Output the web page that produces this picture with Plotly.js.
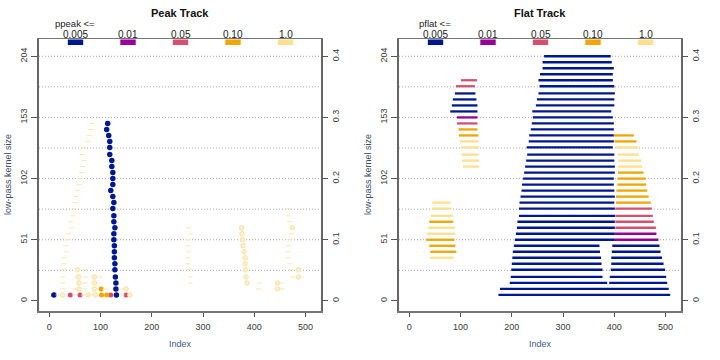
<!DOCTYPE html>
<html><head><meta charset="utf-8">
<script src="https://cdn.plot.ly/plotly-3.0.1.min.js"></script>
<style>html,body{margin:0;padding:0;background:#fff}#chart{width:720px;height:360px}</style>
</head><body><div id="chart"></div>
<script>
// ---------- data ----------
const kernelSizes = [5,10,15,20,26,31,36,41,46,51,56,61,66,71,77,82,87,92,97,102,107,112,117,122,128,133,138,143,148,153,158,163,168,173,179,184,189,194,199,204];
const pLevels = [0.005, 0.01, 0.05, 0.10, 1.0];
const pLabels = ['0.005','0.01','0.05','0.10','1.0'];
const xTicks = [0,100,200,300,400,500];
const yTicks = [0,51,102,153,204];
const rightTicks = [0,0.1,0.2,0.3,0.4];
const rightTickText = ['0','0.1','0.2','0.3','0.4'];
const gridVals = [25.5,51,76.5,102,127.5,153,178.5,204];
const signalLength = 510;

// Peak track: detected peaks (row = kernel size index, 1-based)
const peakRow = [29,28,27,26,25,24,23,22,21,20,19,18,17,16,15,14,13,12,11,10,9,8,7,6,5,4,3,2,1,1,
  1,1,1,1, 1,1,2,
  1,1,1,1,2,2,2,3,3,4,4,5,
  12,11,10,9,8,7,6,5,4,3, 3,2, 12,5,4];
const peakIndex = [114,112,116,118,118,118,122,122,124,124,124,120,124,126,124,126,126,128,126,126,127,127,127,128,128,129,130,130,131,9,
  41,60,120,150, 102,112,101,
  26,76,90,157,58,88,150,58,88,57,88,55,
  375,376,377,378,380,382,382,383,384,386, 445,445, 474,486,486];
const peakP = [0.005,0.005,0.005,0.005,0.005,0.005,0.005,0.005,0.005,0.005,0.005,0.005,0.005,0.005,0.005,0.005,0.005,0.005,0.005,0.005,0.005,0.005,0.005,0.005,0.005,0.005,0.005,0.005,0.005,0.005,
  0.05,0.05,0.05,0.05, 0.10,0.10,0.10,
  1,1,1,1,1,1,1,1,1,1,1,1,
  1,1,1,1,1,1,1,1,1,1, 1,1, 1,1,1];
// weak peaks (drawn as faint dashes, p <= 1.0)
const weakRow = [29,28,27,26,25,24,23,22,21,20,19,18,17,16,15,14,13,12,11,10,9,8,7,6,5,4,3,2,1,
  5,4,4,3,2,2,2,2,1,1,1,1,
  12,11,10,9,8,7,6,5,4,3,
  3,2,3,2,
  15,14,13,11,10,9,8,7,6,5,4,4];
const weakIndex = [83,81,78,75,67,64,68,65,63,60,58,55,53,50,49,46,42,45,38,35,32,33,29,29,29,27,26,26,17,
  70,70,99,70,50,70,109,142,50,67,83,142,
  272,275,271,271,272,270,270,274,275,275,
  409,408,454,454,
  468,467,469,472,468,467,466,466,469,471,475,493];

// Flat track: flat segments
const flatRow = [40,39,38,37,36,35,34,33,32,31,30,29,28,
  27,27,26,26,25,25,24,24,23,23,22,22,21,21,20,20,19,19,18,18,17,17,16,16,15,15,14,14,13,13,12,12,11,11,10,10,
  9,9,8,8,7,7,6,6,5,5,4,4,3,3,2,1,
  36,35,34,33,32,31,30,29,28,27,26,25,24,23,22,
  16,15,14,13,12,11,10,9,8,7];
const flatStart = [263,260,260,255,252,254,252,249,247,240,241,239,237,
  234,399,233,400,229,403,230,406,228,408,226,407,224,407,222,406,220,406,219,404,217,403,215,403,214,402,214,403,211,402,210,402,208,401,206,401,
  204,396,202,395,201,394,200,394,199,393,198,391,196,390,177,174,
  101,91,89,85,83,80,93,93,96,97,99,101,102,103,105,
  45,44,42,39,37,35,33,39,41,41];
const flatEnd = [393,395,399,397,397,400,401,400,400,394,397,399,399,
  399,438,399,443,397,447,400,448,400,452,401,454,401,457,399,461,399,462,400,464,401,467,400,471,401,473,402,475,401,477,401,481,401,482,401,486,
  371,488,372,490,374,493,375,496,377,499,377,501,386,503,506,509,
  132,128,129,131,133,133,133,133,133,135,135,136,135,136,136,
  81,82,85,86,89,90,88,90,92,87];
const flatP = [0.005,0.005,0.005,0.005,0.005,0.005,0.005,0.005,0.005,0.005,0.005,0.005,0.005,
  0.005,0.10,0.005,0.10,0.005,1,0.005,1,0.005,1,0.005,1,0.005,0.10,0.005,0.10,0.005,0.10,0.005,0.10,0.005,0.10,0.005,0.10,0.005,0.05,0.005,0.05,0.005,0.05,0.005,0.05,0.005,0.01,0.005,0.01,
  0.005,0.005,0.005,0.005,0.005,0.005,0.005,0.005,0.005,0.005,0.005,0.005,0.005,0.005,0.005,0.005,
  0.05,0.05,0.005,0.005,0.005,0.005,0.01,0.05,0.10,0.10,1,1,1,1,1,
  1,1,1,0.10,1,1,0.10,0.10,0.10,1];

// ---------- styling ----------
const levelColors = ['#00188F','#990099','#D6506E','#F0A500','#FCE08F'];
const FONT = 'Liberation Sans, Arial, Helvetica, sans-serif';
const xRange = [-20, 530];
const yRange = [-8.4, 218.4];
const legendFrac = [0.1,0.3,0.5,0.7,0.9];
const legendW = 30;

const traces = [];

// Peak track traces
pLevels.forEach((lev, li) => {
  const xs = [], ys = [];
  peakP.forEach((p, i) => { if (p === lev) { xs.push(peakIndex[i]); ys.push(kernelSizes[peakRow[i]-1]); } });
  if (!xs.length) return;
  const isNS = lev === 1.0;
  traces.push({
    type:'scatter', mode:'markers', x:xs, y:ys, xaxis:'x', yaxis:'y', showlegend:false, hoverinfo:'skip',
    marker: isNS ? {size:4.5, color:'#FEF1D0', line:{color:'#F9DC98', width:0.9}}
                 : {size: lev===0.005 ? 5.5 : 5, color:levelColors[li], line:{width:0}}
  });
});
traces.push({
  type:'scatter', mode:'markers', xaxis:'x', yaxis:'y', showlegend:false, hoverinfo:'skip',
  x: weakIndex, y: weakRow.map(r => kernelSizes[r-1]),
  marker:{symbol:'line-ew', size:3.5, line:{color:'#FCE6B0', width:1}}
});

// Flat track traces
pLevels.forEach((lev, li) => {
  const xs = [], ys = [];
  flatP.forEach((p, i) => {
    if (p === lev) {
      const y = kernelSizes[flatRow[i]-1];
      xs.push(flatStart[i], flatEnd[i], null); ys.push(y, y, null);
    }
  });
  if (!xs.length) return;
  traces.push({type:'scatter', mode:'lines', x:xs, y:ys, xaxis:'x2', yaxis:'y2', showlegend:false, hoverinfo:'skip',
    line:{color:levelColors[li], width:2.3}});
});

// hidden traces to activate right-hand axes
traces.push({type:'scatter', mode:'markers', x:[0], y:[0], xaxis:'x', yaxis:'y3', marker:{opacity:0}, showlegend:false, hoverinfo:'skip'});
traces.push({type:'scatter', mode:'markers', x:[0], y:[0], xaxis:'x2', yaxis:'y4', marker:{opacity:0}, showlegend:false, hoverinfo:'skip'});

const xDom1 = [39/720, 321/720], xDom2 = [399/720, 681/720];
const yDom = [1-311/360, 1-39/360];
const tickFont = {family:FONT, size:9, color:'#3a3a3a'};

function xAxis(dom, anchor){ return {domain:dom, anchor:anchor, range:xRange, tickvals:xTicks, ticks:'outside', ticklen:4, tickcolor:'#555',
  showline:true, mirror:true, linecolor:'#777', linewidth:1.5, showgrid:false, zeroline:false, tickfont:tickFont, ticklabelstandoff:3}; }
function yAxis(anchor){ return {domain:yDom, anchor:anchor, range:yRange, tickvals:yTicks, tickangle:-90, ticks:'outside', ticklen:6, tickcolor:'#555',
  showline:true, mirror:true, linecolor:'#666', linewidth:1.8, showgrid:false, zeroline:false, tickfont:tickFont, ticklabelstandoff:1}; }
function rAxis(over, anchor){ return {overlaying:over, anchor:anchor, side:'right', range:[yRange[0]/signalLength, yRange[1]/signalLength],
  tickvals:rightTicks, ticktext:rightTickText, tickangle:-90, ticks:'outside', ticklen:6, tickcolor:'#555', showline:false,
  showgrid:false, zeroline:false, tickfont:tickFont, ticklabelstandoff:0}; }

const shapes = [], annotations = [];
[['x','y',xDom1,'Peak Track','ppeak <='],['x2','y2',xDom2,'Flat Track','pflat <=']].forEach(([xa,ya,dom,title,legTitle]) => {
  gridVals.forEach(g => shapes.push({type:'line', xref:'paper', yref:ya, x0:dom[0], x1:dom[1], y0:g, y1:g, layer:'below',
    line:{color:'#a8a8a8', width:1, dash:'1px,2px'}}));
  const span = 512;
  pLevels.forEach((lev, li) => {
    const c = legendFrac[li]*span;
    shapes.push({type:'rect', xref:xa, yref:'paper', x0:c-legendW/2, x1:c+legendW/2, y0:1-45/360, y1:1-39.5/360,
      fillcolor:levelColors[li], line:{width:0}});
    annotations.push({xref:xa, yref:'paper', x:c, y:1-34/360, text:pLabels[li], showarrow:false, xanchor:'center', yanchor:'middle',
      font:{family:FONT, size:10, color:'#222'}});
  });
  const mid = (dom[0]+dom[1])/2;
  annotations.push({xref:'paper', yref:'paper', x:mid, y:1-13.5/360, text:'<b>'+title+'</b>', showarrow:false, xanchor:'center', yanchor:'middle',
    font:{family:FONT, size:11, color:'#111'}});
  annotations.push({xref:'paper', yref:'paper', x:dom[0]+36/720, y:1-23/360, text:legTitle, showarrow:false, xanchor:'center', yanchor:'middle',
    font:{family:FONT, size:9.5, color:'#222'}});
  annotations.push({xref:'paper', yref:'paper', x:mid, y:1-344/360, text:'Index', showarrow:false, xanchor:'center', yanchor:'middle',
    font:{family:FONT, size:9, color:'#3d5a8a'}});
  annotations.push({xref:'paper', yref:'paper', x:dom[0]-31/720, y:(yDom[0]+yDom[1])/2, text:'low-pass kernel size', textangle:-90, showarrow:false,
    xanchor:'center', yanchor:'middle', font:{family:FONT, size:9, color:'#3d4a66'}});
});

const layout = {
  width:720, height:360, margin:{l:0,r:0,t:0,b:0}, paper_bgcolor:'#fff', plot_bgcolor:'#fff', showlegend:false,
  font:{family:FONT},
  xaxis: xAxis(xDom1,'y'), yaxis: yAxis('x'),
  xaxis2: xAxis(xDom2,'y2'), yaxis2: yAxis('x2'),
  yaxis3: rAxis('y','x'), yaxis4: rAxis('y2','x2'),
  shapes: shapes, annotations: annotations
};
Plotly.newPlot('chart', traces, layout, {staticPlot:true, displayModeBar:false});
</script></body></html>
